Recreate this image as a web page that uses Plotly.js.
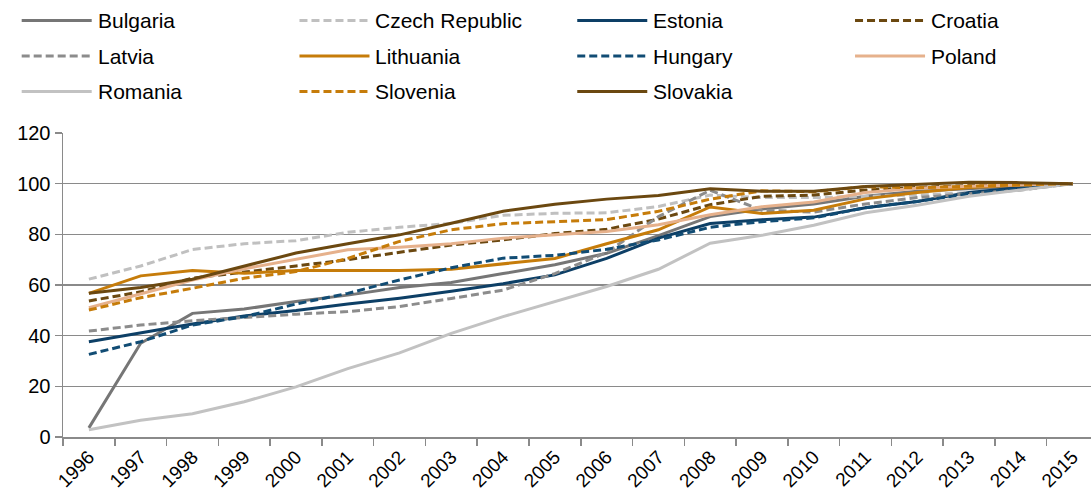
<!DOCTYPE html>
<html>
<head>
<meta charset="utf-8">
<script src="https://cdn.plot.ly/plotly-3.0.1.min.js"></script>
<style>
  html, body { margin: 0; padding: 0; background: #fff; }
  #chart { width: 1091px; height: 497px; }
</style>
</head>
<body>
<div id="chart"></div>
<script>
// ---- data ----
const years = ["1996","1997","1998","1999","2000","2001","2002","2003","2004","2005",
               "2006","2007","2008","2009","2010","2011","2012","2013","2014","2015"];

const countries = ["Bulgaria","Czech Republic","Estonia","Croatia",
                   "Latvia","Lithuania","Hungary","Poland",
                   "Romania","Slovenia","Slovakia"];

const bulgaria = [3.6, 37, 48.8, 50.5, 53.5, 56, 59, 61, 64.5, 68, 72.5, 79.5, 87, 90, 92, 95, 97, 98, 99, 100];
const czech    = [62.3, 67.5, 74, 76.3, 77.5, 80.8, 82.8, 84.3, 87.5, 88.3, 88.5, 91, 95.5, 94.5, 94.5, 95, 95.5, 96.5, 98, 100];
const estonia  = [37.6, 41.2, 44.6, 47.8, 49.9, 52.5, 54.8, 57.5, 60.5, 64, 70.5, 78.5, 84.3, 85.8, 86.8, 90.5, 93, 96.5, 98.5, 100];
const croatia  = [53.7, 57.3, 62.7, 65, 67.5, 70, 73, 75.8, 77.8, 80.3, 82, 86, 91.7, 95, 95.5, 97.5, 98.5, 99.3, 99.8, 100];
const latvia   = [41.8, 44.2, 45.9, 47.3, 48.5, 49.5, 51.5, 54.7, 58, 64.5, 72.8, 87, 97.4, 89.5, 88.8, 92, 94.5, 96, 97.5, 100];
const lithuania= [56.7, 63.6, 65.7, 64.6, 65.7, 65.7, 65.7, 66.2, 68.3, 70.5, 76.3, 81.8, 90.8, 88.2, 89.5, 94, 96.5, 98.5, 99.5, 100];
const hungary  = [32.6, 37.6, 44.2, 47.5, 52.5, 56.7, 62, 66.8, 70.6, 71.7, 74.1, 77.8, 82.8, 85, 86.5, 90.5, 93, 96, 98, 100];
const poland   = [51, 56.5, 62, 66.4, 70.2, 73.9, 74.9, 76.3, 78.5, 79.8, 81.1, 83.8, 87.7, 90.9, 92.8, 96.5, 98.2, 99, 99.5, 100];
const romania  = [2.9, 6.6, 9.2, 13.9, 19.8, 27, 33.2, 40.9, 47.5, 53.3, 59.4, 66.2, 76.5, 79.6, 83.6, 88.5, 91.5, 95, 97.5, 100];
const slovenia = [50.1, 55, 58.7, 62.7, 65.3, 70.5, 77.2, 81.8, 84.2, 85.1, 85.8, 89.1, 93.9, 97.2, 96.8, 98.8, 98.4, 99, 99.5, 100];
const slovakia = [56.7, 59, 62.3, 67.3, 72.6, 76.3, 79.8, 84.4, 89.1, 91.9, 93.9, 95.3, 98, 97, 97, 98.9, 99.7, 100.6, 100.4, 100];

const yTicks = [0, 20, 40, 60, 80, 100, 120];

// ---- styles ----
const seriesValues = [bulgaria, czech, estonia, croatia, latvia, lithuania, hungary, poland, romania, slovenia, slovakia];
const colors = ["#767676","#c0c0c0","#0d3f66","#6b4810","#8c8c8c","#c67c0a","#114c74","#e6b18c","#c2c2c2","#c67c0a","#6b4810"];
const dashes = ["solid","dash","solid","dash","dash","solid","dash","solid","solid","dash","solid"];
const dashPattern = "8px,4px";
const lineW = 3;
const gridC = "#8a8a8a";
const FONT = "Liberation Sans, Arial, sans-serif";

// ---- geometry ----
const W = 1091, H = 497, ML = 63.3, MT = 133.3, MB = 60.3;
const plotW = W - ML, plotH = H - MT - MB;
const catW = 51.76;
const xMax = -0.5 + plotW / catW;
const px2x = px => (px - ML) / plotW;
const py2y = py => (H - MB - py) / plotH;

const traces = seriesValues.map((vals, i) => ({
  type: "scatter",
  mode: "lines",
  x: years,
  y: vals,
  name: countries[i],
  line: { color: colors[i], width: lineW, dash: dashes[i] === "dash" ? dashPattern : "solid" },
  showlegend: false,
  hoverinfo: "skip"
}));

// manual legend (4 columns)
const shapes = [];
const annotations = [];
countries.forEach((name, i) => {
  const col = i % 4, row = Math.floor(i / 4);
  const x0 = 22 + col * 277.7, x1 = x0 + 70, yy = 21 + row * 35.5;
  shapes.push({
    type: "line", xref: "paper", yref: "paper",
    x0: px2x(x0), x1: px2x(x1), y0: py2y(yy), y1: py2y(yy),
    line: { color: colors[i], width: lineW, dash: dashes[i] === "dash" ? dashPattern : "solid" }
  });
  annotations.push({
    xref: "paper", yref: "paper", x: px2x(x1 + 4), y: py2y(yy),
    xanchor: "left", yanchor: "middle", showarrow: false,
    text: name, font: { family: FONT, size: 21, color: "#000" }
  });
});

const layout = {
  width: W, height: H,
  margin: { l: ML, r: 0, t: MT, b: MB, pad: 0 },
  paper_bgcolor: "#fff", plot_bgcolor: "#fff",
  font: { family: FONT, size: 20, color: "#000" },
  showlegend: false,
  xaxis: {
    type: "category",
    range: [-0.5, xMax],
    tickson: "boundaries",
    ticks: "outside", ticklen: 7, tickwidth: 1.5, tickcolor: gridC,
    showline: true, linecolor: gridC, linewidth: 1.5,
    showgrid: false, zeroline: false,
    tickangle: -45,
    tickfont: { family: FONT, size: 19, color: "#000" },
    fixedrange: true
  },
  yaxis: {
    range: [0, 120],
    tickvals: yTicks,
    ticks: "outside", ticklen: 7, tickwidth: 1.5, tickcolor: gridC,
    showline: true, linecolor: gridC, linewidth: 1.5,
    showgrid: true, gridcolor: gridC, gridwidth: 1.5,
    zeroline: false,
    tickfont: { family: FONT, size: 20, color: "#000" },
    fixedrange: true
  },
  shapes: shapes,
  annotations: annotations
};

Plotly.newPlot("chart", traces, layout, { displayModeBar: false, staticPlot: true });
</script>
</body>
</html>
